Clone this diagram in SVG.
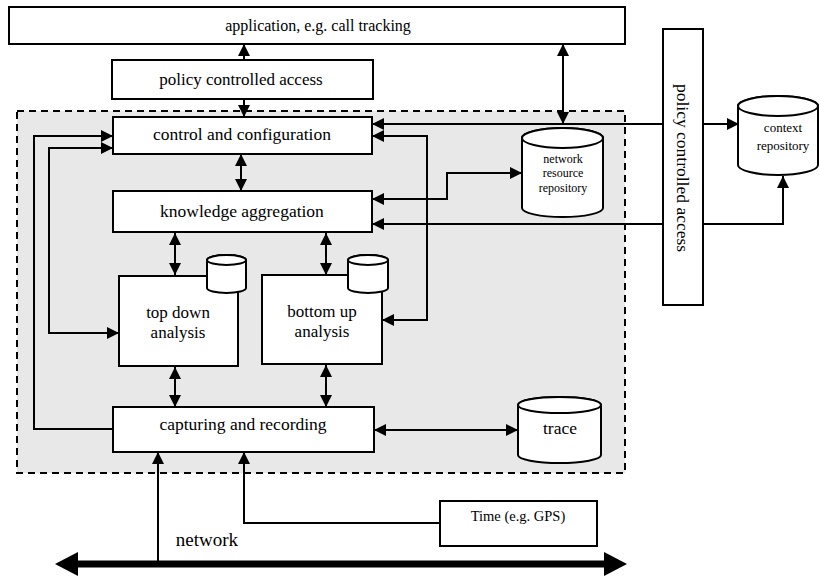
<svg xmlns="http://www.w3.org/2000/svg" width="820" height="577" viewBox="0 0 820 577">
<style>
  .box{fill:#fff;stroke:#000;stroke-width:2}
  .cyl{fill:#fff;stroke:#000;stroke-width:2}
  .ln{fill:none;stroke:#000;stroke-width:2}
</style>
<defs>
  <marker id="ah" viewBox="0 0 12 12" refX="12" refY="6" markerWidth="12" markerHeight="12" markerUnits="userSpaceOnUse" orient="auto-start-reverse">
    <path d="M0,0 L12,6 L0,12 z" fill="#000"/>
  </marker>
</defs>
<rect width="820" height="577" fill="#fff"/>

<g id="container">
  <rect x="17" y="111" width="608" height="362" fill="#e8e8e8" stroke="#000" stroke-width="2" stroke-dasharray="7,5"/>
</g>

<g id="connectors">
  <line class="ln" x1="244" y1="99" x2="244" y2="44" marker-end="url(#ah)"/>
  <line class="ln" x1="244" y1="99" x2="244" y2="117" marker-end="url(#ah)"/>
  <line class="ln" x1="563" y1="44" x2="563" y2="124" marker-start="url(#ah)" marker-end="url(#ah)"/>
  <line class="ln" x1="372" y1="124" x2="739" y2="124" marker-start="url(#ah)" marker-end="url(#ah)"/>
  <path class="ln" d="M382,320 H427 V136 H372" marker-start="url(#ah)" marker-end="url(#ah)"/>
  <path class="ln" d="M372,199 H447 V173 H522" marker-start="url(#ah)" marker-end="url(#ah)"/>
  <path class="ln" d="M372,224 H783 V176" marker-start="url(#ah)" marker-end="url(#ah)"/>
  <path class="ln" d="M113,429 H34 V136 H113" marker-end="url(#ah)"/>
  <path class="ln" d="M113,148 H49 V333 H119" marker-start="url(#ah)" marker-end="url(#ah)"/>
  <line class="ln" x1="241" y1="154" x2="241" y2="191" marker-start="url(#ah)" marker-end="url(#ah)"/>
  <line class="ln" x1="175" y1="233" x2="175" y2="275" marker-start="url(#ah)" marker-end="url(#ah)"/>
  <line class="ln" x1="326" y1="233" x2="326" y2="275" marker-start="url(#ah)" marker-end="url(#ah)"/>
  <line class="ln" x1="175" y1="367" x2="175" y2="407" marker-start="url(#ah)" marker-end="url(#ah)"/>
  <line class="ln" x1="326" y1="365" x2="326" y2="407" marker-start="url(#ah)" marker-end="url(#ah)"/>
  <line class="ln" x1="374" y1="430" x2="518" y2="430" marker-start="url(#ah)" marker-end="url(#ah)"/>
  <line class="ln" x1="158" y1="564" x2="158" y2="452" marker-end="url(#ah)"/>
  <path class="ln" d="M440,523 H244 V452" marker-end="url(#ah)"/>
  <line x1="75" y1="564" x2="607" y2="564" stroke="#000" stroke-width="7"/>
  <polygon points="55,564 78,552 78,576" fill="#000"/>
  <polygon points="627,564 604,552 604,576" fill="#000"/>
</g>

<g font-family="Times New Roman, Liberation Serif, DejaVu Serif, serif" text-anchor="middle" fill="#000">
<g id="application">
  <rect class="box" x="9" y="7" width="616" height="37"/>
  <text x="318" y="31" font-size="16">application, e.g. call tracking</text>
</g>

<g id="policy-top">
  <rect class="box" x="112" y="60" width="261" height="39"/>
  <text x="241" y="85" font-size="17">policy controlled access</text>
</g>

<g id="control">
  <rect class="box" x="113" y="117" width="259" height="37"/>
  <text x="242" y="140" font-size="17.5">control and configuration</text>
</g>

<g id="knowledge">
  <rect class="box" x="113" y="191" width="259" height="41"/>
  <text x="242" y="217" font-size="17.5">knowledge aggregation</text>
</g>

<g id="top-down">
  <rect class="box" x="119" y="276" width="119" height="90"/>
  <path class="cyl" d="M207,260 V288 A19.5,5 0 0 0 246,288 V260 A19.5,5 0 0 0 207,260 Z"/>
  <ellipse class="cyl" cx="226.5" cy="260" rx="19.5" ry="5"/>
  <text x="178" y="318" font-size="17">top down</text>
  <text x="178" y="338" font-size="17">analysis</text>
</g>

<g id="bottom-up">
  <rect class="box" x="262" y="275" width="120" height="89"/>
  <path class="cyl" d="M348,260 V288 A20,5 0 0 0 388,288 V260 A20,5 0 0 0 348,260 Z"/>
  <ellipse class="cyl" cx="368" cy="260" rx="20" ry="5"/>
  <text x="322" y="317" font-size="17">bottom up</text>
  <text x="322" y="337" font-size="17">analysis</text>
</g>

<g id="capturing">
  <rect class="box" x="113" y="407" width="261" height="45"/>
  <text x="243" y="430" font-size="17.5">capturing and recording</text>
</g>

<g id="network-resource-repository">
  <path class="cyl" d="M522,138 V208 A40.5,9 0 0 0 603,208 V138 A40.5,10 0 0 0 522,138 Z"/>
  <ellipse class="cyl" cx="562.5" cy="138" rx="40.5" ry="10"/>
  <text x="563" y="163" font-size="12">network</text>
  <text x="563" y="177" font-size="12">resource</text>
  <text x="563" y="192" font-size="12">repository</text>
</g>

<g id="trace">
  <path class="cyl" d="M518,405 V455 A41.5,8 0 0 0 601,455 V405 A41.5,8 0 0 0 518,405 Z"/>
  <ellipse class="cyl" cx="559.5" cy="405" rx="41.5" ry="8"/>
  <text x="560" y="434" font-size="17.5">trace</text>
</g>

<g id="policy-vertical">
  <rect class="box" x="663" y="29" width="40" height="276"/>
  <text transform="translate(677,168) rotate(90)" x="0" y="0" font-size="17.5">policy controlled access</text>
</g>

<g id="context-repository">
  <path class="cyl" d="M738,106 V165 A40,10 0 0 0 818,165 V106 A40,10 0 0 0 738,106 Z"/>
  <ellipse class="cyl" cx="778" cy="106" rx="40" ry="10"/>
  <text x="783" y="132" font-size="13">context</text>
  <text x="783" y="150" font-size="13">repository</text>
</g>

<g id="time">
  <rect class="box" x="440" y="501" width="157" height="45"/>
  <text x="518" y="521" font-size="14.5">Time (e.g. GPS)</text>
</g>

<g id="network-label">
  <text x="207" y="546" font-size="19">network</text>
</g>
</g>
</svg>
